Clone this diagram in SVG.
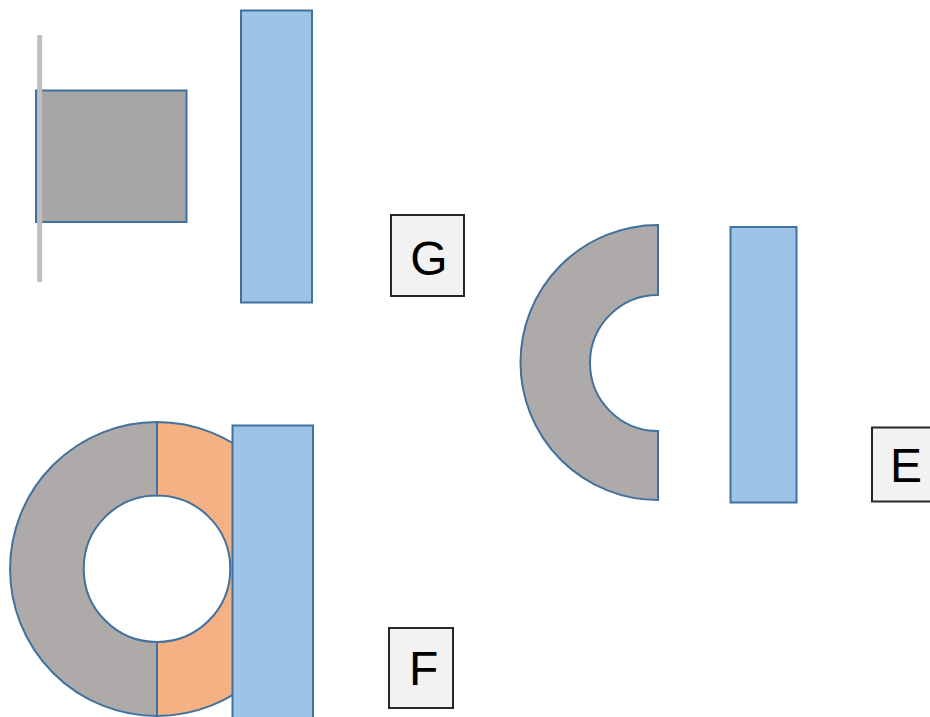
<svg xmlns="http://www.w3.org/2000/svg" width="930" height="717" viewBox="0 0 930 717">
<style>
.blue{fill:#9dc3e6;stroke:#41719c;stroke-width:2}
.gray{fill:#aeaaaa;stroke:#41719c;stroke-width:2}
.lbl{fill:#f2f2f2;stroke:#262626;stroke-width:2}
.t{font-family:"Liberation Sans",Arial,sans-serif;font-size:48px;fill:#000}
</style>
<rect width="930" height="717" fill="#fff"/>
<g id="G-group">
  <rect x="36" y="90.5" width="150.5" height="131.5" fill="#a6a6a6" stroke="#41719c" stroke-width="2"/>
  <line x1="39.7" y1="35" x2="39.7" y2="282" stroke="#bfbfbf" stroke-width="5"/>
  <rect class="blue" x="241" y="10.5" width="71" height="292"/>
</g>
<g id="G">
  <rect class="lbl" x="391" y="215" width="73" height="81"/>
  <text class="t" x="429" y="275" text-anchor="middle">G</text>
</g>
<g id="E-group">
  <path class="gray" d="M658,225 A137.5,137.5 0 0 0 658,500 L658,431 A68,68 0 0 1 658,295 Z"/>
  <rect class="blue" x="730.5" y="227" width="66" height="275.5"/>
</g>
<g id="E">
  <rect class="lbl" x="872" y="427.5" width="70" height="74"/>
  <text class="t" x="890" y="482">E</text>
</g>
<g id="F-group">
  <path d="M157,422 A147,147 0 0 0 157,716 L157,642 A73.3,73.3 0 0 1 157,495.4 Z" fill="#aeaaaa" stroke="#41719c" stroke-width="2"/>
  <path d="M157,422 A147,147 0 0 1 157,716 L157,642 A73.3,73.3 0 0 0 157,495.4 Z" fill="#f4b183" stroke="#41719c" stroke-width="2"/>
  <rect class="blue" x="232.5" y="425.5" width="80.5" height="300"/>
</g>
<g id="F">
  <rect class="lbl" x="389" y="628" width="64" height="80"/>
  <text class="t" x="409" y="685">F</text>
</g>
<g id="connectors"></g>
</svg>
